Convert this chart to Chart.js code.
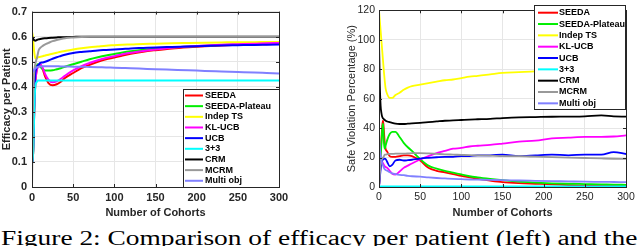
<!DOCTYPE html>
<html>
<head>
<meta charset="utf-8">
<script src="https://cdn.jsdelivr.net/npm/chart.js@4.4.0/dist/chart.umd.min.js"></script>
<style>
  body { margin: 0; background: #fff; width: 640px; height: 246px; overflow: hidden; position: relative; }
  #wrapLeft { position: absolute; left: 0; top: 0; width: 320px; height: 220px; }
  #wrapRight { position: absolute; left: 320px; top: 0; width: 320px; height: 220px; }
  #caption { position: absolute; left: 1px; top: 228px; font-family: "Liberation Serif", "Times New Roman", serif; font-size: 20px; line-height: 20px; white-space: nowrap; color: #000; transform: scaleX(1.37); transform-origin: 0 0; }
</style>
</head>
<body>
<div id="wrapLeft"><canvas id="effChart" width="320" height="220"></canvas></div>
<div id="wrapRight"><canvas id="safeChart" width="320" height="220"></canvas></div>
<div id="caption">Figure 2: Comparison of efficacy per patient (left) and the</div>
<script>
var cohorts = [0,1,2,3,4,5,6,7,8,10,13,16,20,25,30,35,40,50,60,70,80,90,100,110,120,135,150,170,190,210,230,250,270,285,300];

var seriesNames = ["SEEDA","SEEDA-Plateau","Indep TS","KL-UCB","UCB","3+3","CRM","MCRM","Multi obj"];
var seriesColors = ["#ff0000","#00ee00","#ffff00","#ff00ff","#0000ff","#00ffff","#000000","#999999","#8080ff"];

// efficacy per patient (left)
var effSeeda   = [0.1,0.1,0.22,0.33,0.41,0.45,0.47,0.48,0.485,0.487,0.47,0.44,0.415,0.406,0.41,0.42,0.435,0.455,0.474,0.488,0.5,0.51,0.517,0.525,0.532,0.54,0.546,0.553,0.558,0.562,0.565,0.567,0.569,0.57,0.571];
var effPlateau = [0.1,0.1,0.22,0.35,0.43,0.47,0.485,0.49,0.49,0.48,0.47,0.465,0.465,0.466,0.47,0.474,0.48,0.49,0.5,0.51,0.518,0.525,0.531,0.537,0.542,0.548,0.552,0.557,0.561,0.564,0.567,0.569,0.571,0.573,0.574];
var effIndepTS = [0.62,0.6,0.56,0.53,0.515,0.513,0.515,0.517,0.518,0.52,0.522,0.525,0.528,0.532,0.536,0.54,0.543,0.549,0.554,0.558,0.561,0.564,0.566,0.568,0.569,0.571,0.572,0.574,0.575,0.576,0.577,0.578,0.578,0.579,0.579];
var effKlucb   = [0.1,0.1,0.22,0.33,0.41,0.45,0.47,0.48,0.487,0.49,0.475,0.45,0.428,0.418,0.422,0.432,0.444,0.465,0.482,0.495,0.506,0.515,0.522,0.53,0.536,0.543,0.549,0.556,0.561,0.565,0.568,0.57,0.572,0.574,0.575];
var effUcb     = [0.1,0.1,0.25,0.38,0.45,0.47,0.48,0.485,0.488,0.495,0.497,0.5,0.505,0.512,0.518,0.523,0.528,0.535,0.539,0.542,0.545,0.547,0.549,0.551,0.553,0.555,0.557,0.559,0.561,0.563,0.565,0.566,0.567,0.568,0.569];
var eff33      = [0.1,0.1,0.2,0.33,0.4,0.415,0.42,0.425,0.425,0.425,0.425,0.425,0.425,0.425,0.425,0.425,0.425,0.425,0.425,0.425,0.425,0.425,0.425,0.425,0.425,0.425,0.425,0.425,0.425,0.425,0.425,0.425,0.425,0.425,0.425];
var effCrm     = [0.6,0.595,0.588,0.585,0.584,0.585,0.587,0.588,0.589,0.591,0.593,0.594,0.595,0.596,0.597,0.598,0.598,0.599,0.6,0.6,0.6,0.6,0.6,0.6,0.6,0.6,0.6,0.6,0.6,0.6,0.6,0.6,0.6,0.6,0.6];
var effMcrm    = [0,0.3,0.42,0.47,0.49,0.505,0.515,0.53,0.545,0.555,0.563,0.569,0.575,0.582,0.587,0.591,0.594,0.597,0.599,0.6,0.6,0.6,0.6,0.6,0.6,0.6,0.6,0.6,0.6,0.6,0.6,0.6,0.6,0.6,0.6];
var effMulti   = [0.46,0.46,0.465,0.47,0.473,0.476,0.478,0.479,0.48,0.481,0.482,0.482,0.482,0.482,0.482,0.481,0.481,0.48,0.48,0.479,0.478,0.477,0.476,0.475,0.474,0.472,0.47,0.468,0.466,0.463,0.461,0.459,0.457,0.455,0.453];

// safe violation percentage (right)
var safeSeeda   = [0,10,22,33,42,45,38,30,26,24,21,20.5,20.5,21,21.5,21.5,21,18,13,11,10,8.8,7.5,6.5,5.5,4.3,3.3,2.6,2.2,1.8,1.3,1,0.9,0.8,0.7];
var safePlateau = [0,10,20,30,40,43,30,26,28,32,36,37.5,37.5,34,30,27,24.5,19,14.5,12.5,11,9.8,8.5,7.3,6.5,5.5,4.6,3.6,3,2.5,2.2,2,1.8,1.6,1.5];
var safeIndepTS = [120,113,106,99,92,85,78,72,67,63,60.5,60.5,62.5,64,66,67.5,68.5,69.5,70.5,71.5,72.5,73,74,75,75.5,76.5,77.5,78,78.5,79.5,79.5,80.2,80.5,81.5,80.5];
var safeKlucb   = [0,8,15,18,17,16,15,14,13.5,13,11,9,8.5,10.5,13,14.5,16,18.7,21,23,24.5,26,26.5,27.5,28,28.6,29.5,30.8,31.5,33,33.5,34,34,34.3,35];
var safeUcb     = [0,6,12,16,18,18.7,19,19.3,19,17,14,15,18,18.5,18,18.2,18.5,19.3,19.8,20.2,20.5,20.5,21,21,21.5,21.5,22,21,21.5,22,21.5,22,22,23.7,22.4];
var safe33      = [0,0,0,0,0,0,0,0,0,0,0,0,0,0,0,0,0,0,0,0,0,0,0,0,0,0,0,0,0,0,0,0,0,0,0];
var safeCrm     = [101,70,55,50,47.5,46.5,46,45.5,45,44.5,44,43.5,43,42.8,42.8,43,43.2,43.5,44,44.5,45,45.2,45.5,45.8,46,46.3,46.8,47.3,47.5,47.7,47.8,48,48.6,48,47.8];
var safeMcrm    = [0,8,15,18,19.5,20,21,22,22,22.3,22.5,22.5,22.6,22.6,22.7,22.8,23,23,22.8,22.5,22.2,22,21.8,21.6,21.5,21.3,21,20.9,20.6,20.3,20,19.7,19.4,19.2,19.1];
var safeMulti   = [33,27,22,18,16,14.5,13,12,11.5,11,10,9.3,8.8,8.3,8,7.6,7.3,7,6.5,6.1,5.8,5.5,5.3,5.1,5,4.8,4.7,4.4,4.2,4,3.8,3.6,3.5,3.4,3.3];

var xTicks = [0,50,100,150,200,250,300];

var effData = [effSeeda, effPlateau, effIndepTS, effKlucb, effUcb, eff33, effCrm, effMcrm, effMulti];
var safeData = [safeSeeda, safePlateau, safeIndepTS, safeKlucb, safeUcb, safe33, safeCrm, safeMcrm, safeMulti];

var sansFont = "'Liberation Sans', Arial, Helvetica, sans-serif";

function makeDatasets(values, width, extra) {
  var sets = [];
  for (var i = 0; i < seriesNames.length; i++) {
    var pts = [];
    for (var j = 0; j < cohorts.length; j++) {
      pts.push({ x: cohorts[j], y: values[i][j] });
    }
    sets.push({
      label: seriesNames[i],
      data: pts,
      borderColor: seriesColors[i],
      backgroundColor: seriesColors[i],
      borderWidth: (extra && extra[i]) ? extra[i] : width,
      pointRadius: 0,
      cubicInterpolationMode: "monotone",
      order: -i
    });
  }
  return sets;
}

// frame + inward ticks + legend box, matlab style
var matlabBox = {
  id: "matlabBox",
  afterDatasetsDraw: function (chart, args, opts) {
    var ctx = chart.ctx;
    var a = chart.chartArea;
    var xs = chart.scales.x, ys = chart.scales.y;
    ctx.save();
    ctx.strokeStyle = "#262626";
    ctx.lineWidth = 1;
    ctx.beginPath();
    xs.ticks.forEach(function (t) {
      var px = Math.round(xs.getPixelForValue(t.value)) + 0.5;
      ctx.moveTo(px, a.bottom); ctx.lineTo(px, a.bottom - 3);
      ctx.moveTo(px, a.top); ctx.lineTo(px, a.top + 3);
    });
    ys.ticks.forEach(function (t) {
      var py = Math.round(ys.getPixelForValue(t.value)) + 0.5;
      ctx.moveTo(a.left, py); ctx.lineTo(a.left + 3, py);
      ctx.moveTo(a.right, py); ctx.lineTo(a.right - 3, py);
    });
    ctx.stroke();
    ctx.strokeRect(Math.round(a.left) + 0.5, Math.round(a.top) + 0.5, Math.round(a.right - a.left), Math.round(a.bottom - a.top));

    // legend
    var L = opts.legend;
    ctx.fillStyle = "#fff";
    ctx.fillRect(L.x, L.y, L.w, L.h);
    ctx.strokeStyle = "#262626";
    ctx.strokeRect(L.x + 0.5, L.y + 0.5, L.w, L.h);
    ctx.font = "bold 9px " + sansFont;
    ctx.textBaseline = "middle";
    ctx.textAlign = "left";
    chart.data.datasets.forEach(function (ds, i) {
      var y = L.y + L.first + i * L.step;
      ctx.strokeStyle = ds.borderColor;
      ctx.lineWidth = 2;
      ctx.beginPath();
      ctx.moveTo(L.x + L.lineFrom, y);
      ctx.lineTo(L.x + L.lineTo, y);
      ctx.stroke();
      ctx.fillStyle = "#000";
      ctx.fillText(ds.label, L.x + L.textX, y);
    });
    ctx.restore();
  }
};

function makeOptions(cfg) {
  return {
    responsive: false,
    animation: false,
    devicePixelRatio: 1,
    layout: { padding: { left: 0, top: cfg.top, right: cfg.right, bottom: 0 } },
    plugins: {
      legend: { display: false },
      tooltip: { enabled: false },
      matlabBox: { legend: cfg.legend }
    },
    scales: {
      x: {
        type: "linear",
        min: 0, max: 300,
        afterBuildTicks: function (s) { s.ticks = xTicks.map(function (v) { return { value: v }; }); },
        afterFit: function (s) { s.height = 33; },
        grid: { color: "#e6e6e6", drawTicks: false },
        border: { display: false },
        ticks: { padding: 4, color: "#262626", font: { family: sansFont, size: cfg.tickSize, weight: cfg.bold ? "bold" : "normal" } },
        title: { display: true, text: "Number of Cohorts", color: "#262626", padding: { top: 0, bottom: 0 }, font: { family: sansFont, size: 11, weight: "bold" } }
      },
      y: {
        min: 0, max: cfg.ymax,
        afterFit: function (s) { s.width = cfg.yWidth; },
        grid: { color: "#e6e6e6", drawTicks: false },
        border: { display: false },
        ticks: { stepSize: cfg.ystep, padding: cfg.ypad, color: "#262626", font: { family: sansFont, size: cfg.tickSize, weight: cfg.bold ? "bold" : "normal" } },
        title: { display: true, text: cfg.ytitle, color: "#262626", padding: { top: cfg.titlePad, bottom: 0 }, font: { family: sansFont, size: 11, weight: cfg.bold ? "bold" : "normal" } }
      }
    }
  };
}

new Chart("effChart", {
  type: "line",
  data: { datasets: makeDatasets(effData, 2) },
  options: makeOptions({
    top: 7, right: 41, yWidth: 32, ymax: 0.7, ystep: 0.1, ypad: 5, bold: true, tickSize: 11, titlePad: 0,
    ytitle: "Efficacy per Patient",
    legend: { x: 183, y: 89, w: 96, h: 98, first: 6.5, step: 10.66, lineFrom: 2, lineTo: 20, textX: 22 }
  }),
  plugins: [matlabBox]
});

new Chart("safeChart", {
  type: "line",
  data: { datasets: makeDatasets(safeData, 1.8, [0, 0, 0, 0, 0, 3]) },
  options: makeOptions({
    top: 5, right: 14, yWidth: 59, ymax: 120, ystep: 20, ypad: 4, bold: false, tickSize: 10.5, titlePad: 25,
    ytitle: "Safe Violation Percentage (%)",
    legend: { x: 214, y: 5, w: 91, h: 104, first: 7.7, step: 11.33, lineFrom: 4, lineTo: 24, textX: 25 }
  }),
  plugins: [matlabBox]
});
</script>
</body>
</html>
